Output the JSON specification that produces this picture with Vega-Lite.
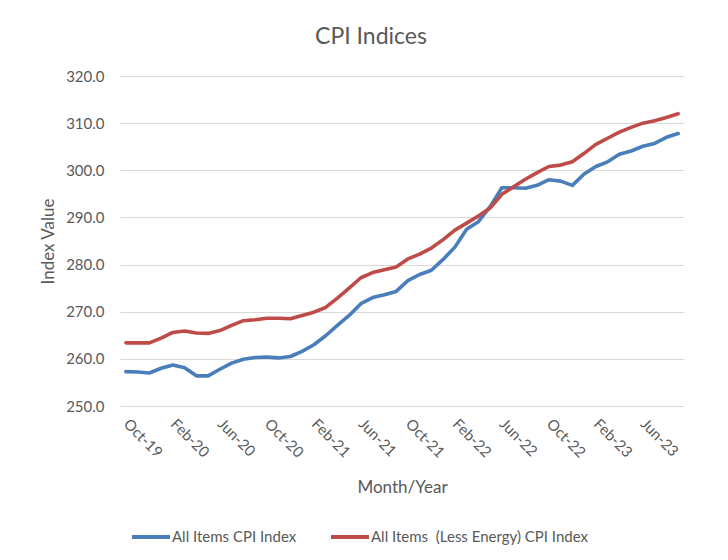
{
  "$schema": "https://vega.github.io/schema/vega-lite/v6.json",
  "width": 564,
  "height": 330,
  "autosize": {"type": "none"},
  "padding": {"left": 120, "top": 76, "right": 44, "bottom": 154},
  "background": "white",
  "title": {"text": "CPI Indices", "fontSize": 23, "font": "Lato", "fontWeight": "normal", "color": "#595959", "anchor": "middle", "dx": -31, "offset": 20},
  "data": {"values": [
    {"month": "Oct-19", "series": "All Items CPI Index", "value": 257.3},
    {"month": "Nov-19", "series": "All Items CPI Index", "value": 257.2},
    {"month": "Dec-19", "series": "All Items CPI Index", "value": 257.0},
    {"month": "Jan-20", "series": "All Items CPI Index", "value": 258.0},
    {"month": "Feb-20", "series": "All Items CPI Index", "value": 258.7},
    {"month": "Mar-20", "series": "All Items CPI Index", "value": 258.1},
    {"month": "Apr-20", "series": "All Items CPI Index", "value": 256.4},
    {"month": "May-20", "series": "All Items CPI Index", "value": 256.4},
    {"month": "Jun-20", "series": "All Items CPI Index", "value": 257.8},
    {"month": "Jul-20", "series": "All Items CPI Index", "value": 259.1},
    {"month": "Aug-20", "series": "All Items CPI Index", "value": 259.9},
    {"month": "Sep-20", "series": "All Items CPI Index", "value": 260.3},
    {"month": "Oct-20", "series": "All Items CPI Index", "value": 260.4},
    {"month": "Nov-20", "series": "All Items CPI Index", "value": 260.2},
    {"month": "Dec-20", "series": "All Items CPI Index", "value": 260.5},
    {"month": "Jan-21", "series": "All Items CPI Index", "value": 261.6},
    {"month": "Feb-21", "series": "All Items CPI Index", "value": 263.0},
    {"month": "Mar-21", "series": "All Items CPI Index", "value": 264.9},
    {"month": "Apr-21", "series": "All Items CPI Index", "value": 267.1},
    {"month": "May-21", "series": "All Items CPI Index", "value": 269.2},
    {"month": "Jun-21", "series": "All Items CPI Index", "value": 271.7},
    {"month": "Jul-21", "series": "All Items CPI Index", "value": 273.0},
    {"month": "Aug-21", "series": "All Items CPI Index", "value": 273.6},
    {"month": "Sep-21", "series": "All Items CPI Index", "value": 274.3},
    {"month": "Oct-21", "series": "All Items CPI Index", "value": 276.6},
    {"month": "Nov-21", "series": "All Items CPI Index", "value": 277.9},
    {"month": "Dec-21", "series": "All Items CPI Index", "value": 278.8},
    {"month": "Jan-22", "series": "All Items CPI Index", "value": 281.1},
    {"month": "Feb-22", "series": "All Items CPI Index", "value": 283.7},
    {"month": "Mar-22", "series": "All Items CPI Index", "value": 287.5},
    {"month": "Apr-22", "series": "All Items CPI Index", "value": 289.1},
    {"month": "May-22", "series": "All Items CPI Index", "value": 292.3},
    {"month": "Jun-22", "series": "All Items CPI Index", "value": 296.3},
    {"month": "Jul-22", "series": "All Items CPI Index", "value": 296.3},
    {"month": "Aug-22", "series": "All Items CPI Index", "value": 296.2},
    {"month": "Sep-22", "series": "All Items CPI Index", "value": 296.8},
    {"month": "Oct-22", "series": "All Items CPI Index", "value": 298.0},
    {"month": "Nov-22", "series": "All Items CPI Index", "value": 297.7},
    {"month": "Dec-22", "series": "All Items CPI Index", "value": 296.8},
    {"month": "Jan-23", "series": "All Items CPI Index", "value": 299.2},
    {"month": "Feb-23", "series": "All Items CPI Index", "value": 300.8},
    {"month": "Mar-23", "series": "All Items CPI Index", "value": 301.8},
    {"month": "Apr-23", "series": "All Items CPI Index", "value": 303.4},
    {"month": "May-23", "series": "All Items CPI Index", "value": 304.1},
    {"month": "Jun-23", "series": "All Items CPI Index", "value": 305.1},
    {"month": "Jul-23", "series": "All Items CPI Index", "value": 305.7},
    {"month": "Aug-23", "series": "All Items CPI Index", "value": 307.0},
    {"month": "Sep-23", "series": "All Items CPI Index", "value": 307.8},
    {"month": "Oct-19", "series": "All Items \u00a0(Less Energy) CPI Index", "value": 263.4},
    {"month": "Nov-19", "series": "All Items \u00a0(Less Energy) CPI Index", "value": 263.4},
    {"month": "Dec-19", "series": "All Items \u00a0(Less Energy) CPI Index", "value": 263.4},
    {"month": "Jan-20", "series": "All Items \u00a0(Less Energy) CPI Index", "value": 264.4},
    {"month": "Feb-20", "series": "All Items \u00a0(Less Energy) CPI Index", "value": 265.6},
    {"month": "Mar-20", "series": "All Items \u00a0(Less Energy) CPI Index", "value": 265.9},
    {"month": "Apr-20", "series": "All Items \u00a0(Less Energy) CPI Index", "value": 265.5},
    {"month": "May-20", "series": "All Items \u00a0(Less Energy) CPI Index", "value": 265.4},
    {"month": "Jun-20", "series": "All Items \u00a0(Less Energy) CPI Index", "value": 266.0},
    {"month": "Jul-20", "series": "All Items \u00a0(Less Energy) CPI Index", "value": 267.1},
    {"month": "Aug-20", "series": "All Items \u00a0(Less Energy) CPI Index", "value": 268.1},
    {"month": "Sep-20", "series": "All Items \u00a0(Less Energy) CPI Index", "value": 268.3},
    {"month": "Oct-20", "series": "All Items \u00a0(Less Energy) CPI Index", "value": 268.6},
    {"month": "Nov-20", "series": "All Items \u00a0(Less Energy) CPI Index", "value": 268.6},
    {"month": "Dec-20", "series": "All Items \u00a0(Less Energy) CPI Index", "value": 268.5},
    {"month": "Jan-21", "series": "All Items \u00a0(Less Energy) CPI Index", "value": 269.2},
    {"month": "Feb-21", "series": "All Items \u00a0(Less Energy) CPI Index", "value": 269.9},
    {"month": "Mar-21", "series": "All Items \u00a0(Less Energy) CPI Index", "value": 270.9},
    {"month": "Apr-21", "series": "All Items \u00a0(Less Energy) CPI Index", "value": 272.9},
    {"month": "May-21", "series": "All Items \u00a0(Less Energy) CPI Index", "value": 275.0},
    {"month": "Jun-21", "series": "All Items \u00a0(Less Energy) CPI Index", "value": 277.2},
    {"month": "Jul-21", "series": "All Items \u00a0(Less Energy) CPI Index", "value": 278.3},
    {"month": "Aug-21", "series": "All Items \u00a0(Less Energy) CPI Index", "value": 278.9},
    {"month": "Sep-21", "series": "All Items \u00a0(Less Energy) CPI Index", "value": 279.5},
    {"month": "Oct-21", "series": "All Items \u00a0(Less Energy) CPI Index", "value": 281.2},
    {"month": "Nov-21", "series": "All Items \u00a0(Less Energy) CPI Index", "value": 282.2},
    {"month": "Dec-21", "series": "All Items \u00a0(Less Energy) CPI Index", "value": 283.5},
    {"month": "Jan-22", "series": "All Items \u00a0(Less Energy) CPI Index", "value": 285.3},
    {"month": "Feb-22", "series": "All Items \u00a0(Less Energy) CPI Index", "value": 287.3},
    {"month": "Mar-22", "series": "All Items \u00a0(Less Energy) CPI Index", "value": 288.8},
    {"month": "Apr-22", "series": "All Items \u00a0(Less Energy) CPI Index", "value": 290.3},
    {"month": "May-22", "series": "All Items \u00a0(Less Energy) CPI Index", "value": 292.0},
    {"month": "Jun-22", "series": "All Items \u00a0(Less Energy) CPI Index", "value": 294.9},
    {"month": "Jul-22", "series": "All Items \u00a0(Less Energy) CPI Index", "value": 296.5},
    {"month": "Aug-22", "series": "All Items \u00a0(Less Energy) CPI Index", "value": 298.1},
    {"month": "Sep-22", "series": "All Items \u00a0(Less Energy) CPI Index", "value": 299.5},
    {"month": "Oct-22", "series": "All Items \u00a0(Less Energy) CPI Index", "value": 300.8},
    {"month": "Nov-22", "series": "All Items \u00a0(Less Energy) CPI Index", "value": 301.1},
    {"month": "Dec-22", "series": "All Items \u00a0(Less Energy) CPI Index", "value": 301.8},
    {"month": "Jan-23", "series": "All Items \u00a0(Less Energy) CPI Index", "value": 303.6},
    {"month": "Feb-23", "series": "All Items \u00a0(Less Energy) CPI Index", "value": 305.5},
    {"month": "Mar-23", "series": "All Items \u00a0(Less Energy) CPI Index", "value": 306.8},
    {"month": "Apr-23", "series": "All Items \u00a0(Less Energy) CPI Index", "value": 308.1},
    {"month": "May-23", "series": "All Items \u00a0(Less Energy) CPI Index", "value": 309.1},
    {"month": "Jun-23", "series": "All Items \u00a0(Less Energy) CPI Index", "value": 310.0},
    {"month": "Jul-23", "series": "All Items \u00a0(Less Energy) CPI Index", "value": 310.5},
    {"month": "Aug-23", "series": "All Items \u00a0(Less Energy) CPI Index", "value": 311.2},
    {"month": "Sep-23", "series": "All Items \u00a0(Less Energy) CPI Index", "value": 312.0}
  ]},
  "mark": {"type": "line", "strokeWidth": 3.6, "strokeCap": "round", "strokeJoin": "round"},
  "encoding": {
    "x": {
      "field": "month", "type": "ordinal", "sort": null,
      "scale": {"type": "point", "padding": 0.5},
      "axis": {
        "title": "Month/Year", "titleFont": "Lato", "titleFontSize": 17, "titleFontWeight": "normal", "titleColor": "#595959", "titlePadding": 19,
        "values": ["Oct-19", "Feb-20", "Jun-20", "Oct-20", "Feb-21", "Jun-21", "Oct-21", "Feb-22", "Jun-22", "Oct-22", "Feb-23", "Jun-23"],
        "labelAngle": 45, "labelAlign": "left", "labelBaseline": "middle", "labelPadding": 15,
        "labelFont": "Lato", "labelFontSize": 15, "labelColor": "#595959",
        "domain": false, "ticks": false, "tickSize": 0, "grid": false
      }
    },
    "y": {
      "field": "value", "type": "quantitative",
      "scale": {"domain": [250, 320], "nice": false, "zero": false},
      "axis": {
        "title": "Index Value", "titleFont": "Lato", "titleFontSize": 17, "titleFontWeight": "normal", "titleColor": "#595959", "titlePadding": 8,
        "values": [250, 260, 270, 280, 290, 300, 310, 320], "format": ".1f",
        "labelFont": "Lato", "labelFontSize": 15, "labelColor": "#595959", "labelPadding": 16,
        "domain": false, "ticks": false, "tickSize": 0, "grid": true, "gridColor": "#d9d9d9", "gridWidth": 1
      }
    },
    "color": {
      "field": "series", "type": "nominal",
      "scale": {"domain": ["All Items CPI Index", "All Items \u00a0(Less Energy) CPI Index"], "range": ["#4a7ebb", "#be4b48"]},
      "legend": {
        "title": null, "orient": "none", "direction": "horizontal", "legendX": 10, "legendY": 440,
        "symbolType": "stroke", "symbolSize": 1444, "symbolStrokeWidth": 4,
        "labelFont": "Lato", "labelFontSize": 15, "labelColor": "#595959", "labelOffset": 0, "columnPadding": 26, "labelLimit": 400
      }
    }
  },
  "config": {"view": {"stroke": null}}
}
